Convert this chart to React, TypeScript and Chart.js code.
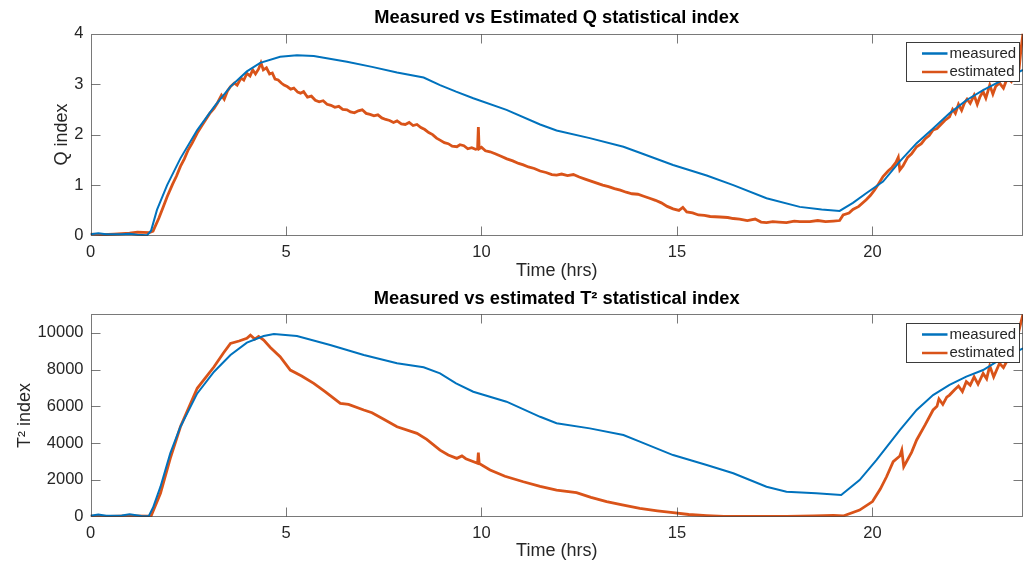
import { useEffect, useRef } from "react";
import { Chart, registerables } from "chart.js";

Chart.register(...registerables);

const FONT = '"Liberation Sans", Arial, Helvetica, sans-serif';
const TEXT = "#262626";
const BLUE = "#0072BD";
const ORANGE = "#D95319";

// ---------- tick labels ----------
const xTicks = [0, 5, 10, 15, 20];
const qYTicks = [0, 1, 2, 3, 4];
const t2YTicks = [0, 2000, 4000, 6000, 8000, 10000];
const xMax = 23.85;
const seriesLabels = ["measured", "estimated"];

// ---------- Q statistical index ----------
const qMeasuredTime = [0, 0.2, 0.4, 0.8, 1.0, 1.2, 1.45, 1.55, 1.7, 1.96, 2.3, 2.73, 3.16, 3.58, 4.0, 4.34, 4.85, 5.28, 5.71, 6.56, 7.2, 7.84, 8.52, 8.94, 9.35, 9.79, 10.64, 11.5, 11.92, 12.77, 13.63, 14.05, 14.9, 15.76, 16.44, 17.29, 18.14, 18.7, 19.16, 19.5, 19.84, 20.27, 20.7, 21.13, 21.55, 21.97, 22.4, 22.83, 23.25, 23.85];
const qMeasured = [0.03, 0.05, 0.03, 0.03, 0.04, 0.02, 0.01, 0.1, 0.51, 1.0, 1.53, 2.09, 2.55, 2.95, 3.25, 3.42, 3.54, 3.57, 3.555, 3.44, 3.34, 3.23, 3.13, 2.98, 2.85, 2.72, 2.49, 2.2, 2.08, 1.93, 1.76, 1.64, 1.4, 1.19, 1.0, 0.74, 0.57, 0.52, 0.49, 0.65, 0.84, 1.07, 1.47, 1.83, 2.12, 2.42, 2.68, 2.88, 3.05, 3.28];

const qEstimatedTime = [0, 0.3, 0.6, 1.0, 1.2, 1.5, 1.6, 1.75, 1.85, 1.96, 2.1, 2.2, 2.3, 2.4, 2.5, 2.6, 2.73, 2.85, 2.95, 3.05, 3.16, 3.25, 3.35, 3.42, 3.5, 3.58, 3.68, 3.75, 3.85, 3.92, 4.0, 4.08, 4.15, 4.22, 4.3, 4.36, 4.42, 4.5, 4.58, 4.65, 4.72, 4.8, 4.88, 4.95, 5.03, 5.12, 5.2, 5.3, 5.37, 5.45, 5.55, 5.65, 5.75, 5.85, 5.95, 6.05, 6.15, 6.25, 6.35, 6.45, 6.56, 6.65, 6.75, 6.85, 6.95, 7.05, 7.15, 7.25, 7.35, 7.45, 7.55, 7.65, 7.75, 7.84, 7.95, 8.05, 8.15, 8.25, 8.35, 8.45, 8.55, 8.65, 8.75, 8.85, 8.94, 9.05, 9.15, 9.25, 9.37, 9.45, 9.55, 9.65, 9.75, 9.85, 9.9, 9.92, 9.94, 10.0, 10.1, 10.22, 10.35, 10.5, 10.65, 10.8, 10.95, 11.07, 11.2, 11.35, 11.5, 11.65, 11.8, 11.92, 12.05, 12.2, 12.35, 12.5, 12.65, 12.8, 12.95, 13.1, 13.25, 13.4, 13.55, 13.7, 13.85, 14.0, 14.15, 14.3, 14.45, 14.6, 14.75, 14.9, 15.05, 15.15, 15.25, 15.4, 15.55, 15.7, 15.85, 16.1, 16.3, 16.44, 16.6, 16.8, 17.0, 17.15, 17.29, 17.45, 17.6, 17.8, 18.0, 18.14, 18.4, 18.6, 18.8, 19.0, 19.16, 19.25, 19.4, 19.5, 19.65, 19.84, 19.95, 20.05, 20.15, 20.27, 20.4, 20.5, 20.6, 20.66, 20.7, 20.78, 20.9, 21.0, 21.13, 21.25, 21.35, 21.45, 21.55, 21.65, 21.75, 21.85, 21.97, 22.05, 22.12, 22.2, 22.28, 22.35, 22.42, 22.5, 22.6, 22.68, 22.75, 22.83, 22.9, 23.0, 23.08, 23.15, 23.25, 23.35, 23.45, 23.55, 23.62, 23.7, 23.75, 23.8, 23.85];
const qEstimated = [0.03, 0.02, 0.03, 0.05, 0.07, 0.06, 0.09, 0.35, 0.55, 0.77, 1.02, 1.18, 1.37, 1.52, 1.7, 1.83, 2.03, 2.18, 2.3, 2.42, 2.52, 2.63, 2.78, 2.7, 2.86, 2.95, 3.02, 2.98, 3.12, 3.08, 3.21, 3.16, 3.28, 3.2, 3.3, 3.42, 3.28, 3.32, 3.2, 3.22, 3.1, 3.08, 3.02, 2.98, 2.95, 2.9, 2.92, 2.84, 2.82, 2.85, 2.74, 2.76, 2.68, 2.65, 2.67, 2.6, 2.58, 2.54, 2.56, 2.5, 2.49, 2.45, 2.43, 2.47, 2.49, 2.42, 2.4, 2.37, 2.39, 2.33, 2.3, 2.28, 2.24, 2.27, 2.21, 2.2, 2.24, 2.18, 2.2, 2.14, 2.1, 2.04, 2.0, 1.93, 1.89, 1.84, 1.82, 1.77, 1.76, 1.8, 1.78, 1.72, 1.74, 1.71, 1.72, 2.15, 1.72, 1.75, 1.68, 1.66, 1.62, 1.57, 1.52, 1.48, 1.43, 1.4, 1.36, 1.33, 1.28, 1.25, 1.21, 1.2, 1.22, 1.19, 1.21, 1.16, 1.12, 1.08, 1.04, 1.0, 0.97, 0.93, 0.9, 0.86, 0.83, 0.82, 0.78, 0.74, 0.7, 0.65, 0.58, 0.53, 0.5, 0.56, 0.47, 0.45, 0.41, 0.4, 0.38, 0.37, 0.36, 0.34, 0.33, 0.3, 0.33, 0.27, 0.26, 0.28, 0.27, 0.26, 0.29, 0.28, 0.28, 0.3, 0.28, 0.29, 0.3, 0.41, 0.45, 0.52, 0.58, 0.71, 0.8, 0.9, 1.02, 1.17, 1.28, 1.35, 1.45, 1.55, 1.3, 1.38, 1.55, 1.62, 1.76, 1.82, 1.92, 1.98, 2.09, 2.12, 2.2, 2.28, 2.35, 2.5, 2.42, 2.6, 2.48, 2.62, 2.7, 2.62, 2.78, 2.6, 2.75, 2.85, 2.72, 2.98, 2.8, 2.95, 3.02, 2.92, 3.12, 3.05, 3.2, 3.12, 3.3, 3.7, 4.0];

// ---------- T^2 statistical index ----------
const t2MeasuredTime = [0, 0.2, 0.4, 0.8, 1.0, 1.3, 1.49, 1.6, 1.79, 2.04, 2.3, 2.73, 3.16, 3.58, 4.0, 4.43, 4.69, 5.28, 6.13, 6.99, 7.84, 8.52, 8.94, 9.35, 9.79, 10.64, 11.5, 11.92, 12.77, 13.63, 14.05, 14.9, 15.76, 16.44, 17.29, 17.8, 18.56, 19.2, 19.67, 20.1, 20.7, 21.13, 21.55, 21.97, 22.4, 22.83, 23.25, 23.85];
const t2Measured = [50, 120, 50, 60, 130, 40, 30, 500, 1630, 3440, 4890, 6700, 7880, 8790, 9460, 9820, 9930, 9820, 9330, 8790, 8340, 8120, 7790, 7250, 6790, 6250, 5430, 5080, 4800, 4440, 4080, 3350, 2810, 2360, 1630, 1360, 1270, 1180, 1990, 3080, 4710, 5800, 6610, 7160, 7610, 7970, 8520, 9150];

const t2EstimatedTime = [0, 0.5, 1.0, 1.5, 1.55, 1.79, 2.04, 2.3, 2.73, 3.16, 3.4, 3.58, 3.8, 4.0, 4.09, 4.2, 4.3, 4.43, 4.6, 4.85, 5.11, 5.4, 5.71, 6.0, 6.39, 6.6, 6.99, 7.2, 7.5, 7.84, 8.35, 8.6, 8.94, 9.15, 9.37, 9.5, 9.6, 9.9, 9.92, 9.94, 10.22, 10.6, 11.07, 11.5, 11.92, 12.43, 12.8, 13.2, 13.6, 14.05, 14.5, 14.9, 15.3, 15.76, 16.2, 17.0, 17.8, 18.5, 19.0, 19.25, 19.67, 20.0, 20.2, 20.36, 20.53, 20.7, 20.75, 20.8, 21.0, 21.13, 21.35, 21.55, 21.65, 21.7, 21.8, 21.9, 21.97, 22.1, 22.2, 22.3, 22.4, 22.5, 22.6, 22.7, 22.83, 22.92, 23.0, 23.1, 23.25, 23.35, 23.45, 23.6, 23.75, 23.85];
const t2Estimated = [30, 20, 40, 30, 40, 1270, 3170, 4890, 6980, 8150, 8900, 9420, 9550, 9700, 9870, 9650, 9800, 9600, 9200, 8700, 7970, 7650, 7250, 6800, 6160, 6100, 5800, 5650, 5300, 4890, 4530, 4200, 3620, 3350, 3170, 3300, 3150, 2900, 3480, 2900, 2540, 2200, 1900, 1650, 1450, 1310, 1050, 820, 640, 450, 320, 220, 120, 60, 20, 10, 20, 40, 70, 40, 360, 820, 1500, 2170, 2990, 3300, 3620, 2720, 3500, 4170, 5000, 5800, 6000, 6400, 6100, 6500, 6610, 6900, 7100, 6800, 7340, 7150, 7600, 7200, 7790, 7500, 8200, 7600, 8340, 8100, 8500, 8700, 10150, 11000];

const pairs = (t: number[], v: number[]) => t.map((x, i) => ({ x, y: v[i] }));

const matlabAxes = {
  id: "matlabAxes",
  afterDraw(chart: any, _args: any, pluginOpts: any) {
    const { ctx, chartArea: a, scales } = chart;
    const xs = scales.x;
    const ys = scales.y;
    ctx.save();

    // title centred over the axes box
    ctx.font = `bold 18.3px ${FONT}`;
    ctx.fillStyle = "#000000";
    ctx.textAlign = "center";
    ctx.textBaseline = "middle";
    ctx.fillText(pluginOpts.title, (a.left + a.right) / 2, a.top - 15.3);

    ctx.strokeStyle = "rgba(38,38,38,0.62)";
    ctx.lineWidth = 1;
    const L = Math.round(a.left) + 0.5;
    const R = Math.round(a.right) - 0.5;
    const T = Math.round(a.top) + 0.5;
    const B = Math.round(a.bottom) - 0.5;
    ctx.strokeRect(L, T, R - L, B - T);
    const tl = 9;
    ctx.beginPath();
    xs.ticks.forEach((t: any) => {
      const px = Math.round(xs.getPixelForValue(t.value)) + 0.5;
      if (px <= L + 1 || px >= R - 1) return;
      ctx.moveTo(px, B);
      ctx.lineTo(px, B - tl);
      ctx.moveTo(px, T);
      ctx.lineTo(px, T + tl);
    });
    ys.ticks.forEach((t: any) => {
      const py = Math.round(ys.getPixelForValue(t.value)) + 0.5;
      if (py <= T + 1 || py >= B - 1) return;
      ctx.moveTo(L, py);
      ctx.lineTo(L + tl, py);
      ctx.moveTo(R, py);
      ctx.lineTo(R - tl, py);
    });
    ctx.stroke();

    // legend box (top-right, inside axes)
    const bw = 113;
    const bh = 39;
    const bx = Math.round(a.right - 4 - bw) + 0.5;
    const by = Math.round(a.top + 8.5) + 0.5;
    ctx.fillStyle = "#ffffff";
    ctx.fillRect(bx, by, bw, bh);
    ctx.strokeStyle = "rgba(38,38,38,0.9)";
    ctx.lineWidth = 1;
    ctx.strokeRect(bx, by, bw, bh);
    ctx.font = `15px ${FONT}`;
    ctx.textBaseline = "middle";
    ctx.textAlign = "left";
    chart.data.datasets.forEach((ds: any, i: number) => {
      const cy = by + 11 + i * 18.5;
      ctx.strokeStyle = ds.borderColor;
      ctx.lineWidth = 2.5;
      ctx.beginPath();
      ctx.moveTo(bx + 15.5, cy);
      ctx.lineTo(bx + 41, cy);
      ctx.stroke();
      ctx.fillStyle = TEXT;
      ctx.fillText(ds.label, bx + 43, cy);
    });
    ctx.restore();
  },
};

function makeConfig(opts: {
  title: string;
  yTitle: string;
  yMax: number;
  yTicks: number[];
  measured: { x: number; y: number }[];
  estimated: { x: number; y: number }[];
  topPad: number;
  xAxisHeight: number;
  xTitlePad: number;
  yTitlePad: number;
}) {
  return {
    type: "line" as const,
    data: {
      datasets: [
        {
          label: seriesLabels[0],
          data: opts.measured,
          borderColor: BLUE,
          backgroundColor: BLUE,
          borderWidth: 2,
          pointRadius: 0,
          tension: 0,
        },
        {
          label: seriesLabels[1],
          data: opts.estimated,
          borderColor: ORANGE,
          backgroundColor: ORANGE,
          borderWidth: 2.8,
          pointRadius: 0,
          tension: 0,
        },
      ],
    },
    options: {
      animation: false,
      responsive: false,
      maintainAspectRatio: false,
      events: [],
      layout: { padding: { left: 0, right: 1, top: opts.topPad, bottom: 0 } },
      plugins: {
        legend: { display: false },
        tooltip: { enabled: false },
        title: { display: false },
        matlabAxes: { title: opts.title },
      },
      scales: {
        x: {
          type: "linear",
          min: 0,
          max: xMax,
          grid: { display: false, drawTicks: false, tickLength: 0 },
          border: { display: false },
          afterBuildTicks: (s: any) => {
            s.ticks = xTicks.map((v) => ({ value: v }));
          },
          ticks: {
            autoSkip: false,
            maxRotation: 0,
            padding: 7.2,
            color: TEXT,
            font: { family: FONT, size: 16.5, lineHeight: 1.2 },
            callback: (v: any) => String(v),
          },
          title: {
            display: true,
            text: "Time (hrs)",
            color: TEXT,
            font: { family: FONT, size: 18, lineHeight: 1.2 },
            padding: { top: 0, bottom: opts.xTitlePad },
          },
          afterFit: (s: any) => {
            s.height = opts.xAxisHeight;
          },
        },
        y: {
          type: "linear",
          min: 0,
          max: opts.yMax,
          grid: { display: false, drawTicks: false, tickLength: 0 },
          border: { display: false },
          afterBuildTicks: (s: any) => {
            s.ticks = opts.yTicks.map((v) => ({ value: v }));
          },
          ticks: {
            autoSkip: false,
            padding: 7,
            color: TEXT,
            font: { family: FONT, size: 16.5, lineHeight: 1.2 },
            callback: (v: any) => String(v),
          },
          title: {
            display: true,
            text: opts.yTitle,
            color: TEXT,
            font: { family: FONT, size: 18, lineHeight: 1.2 },
            padding: { top: opts.yTitlePad, bottom: 0 },
          },
          afterFit: (s: any) => {
            s.width = 90.5;
          },
        },
      },
    },
    plugins: [matlabAxes],
  };
}

function Panel(props: { top: number; height: number; config: any }) {
  const ref = useRef<HTMLCanvasElement | null>(null);
  useEffect(() => {
    if (!ref.current) return;
    const chart = new Chart(ref.current, props.config);
    return () => chart.destroy();
  }, []);
  return (
    <canvas
      ref={ref}
      width={1024}
      height={props.height}
      style={{ position: "absolute", left: 0, top: props.top, width: 1024, height: props.height, display: "block" }}
    />
  );
}

export default function App() {
  const qConfig = makeConfig({
    title: "Measured vs Estimated Q statistical index",
    yTitle: "Q index",
    yMax: 4,
    yTicks: qYTicks,
    measured: pairs(qMeasuredTime, qMeasured),
    estimated: pairs(qEstimatedTime, qEstimated),
    topPad: 33.5,
    xAxisHeight: 48.3,
    xTitlePad: 2.2,
    yTitlePad: 51.7,
  });
  const t2Config = makeConfig({
    title: "Measured vs estimated T² statistical index",
    yTitle: "T² index",
    yMax: 11000,
    yTicks: t2YTicks,
    measured: pairs(t2MeasuredTime, t2Measured),
    estimated: pairs(t2EstimatedTime, t2Estimated),
    topPad: 30.3,
    xAxisHeight: 52.3,
    xTitlePad: 7.2,
    yTitlePad: 14.7,
  });
  return (
    <div style={{ position: "fixed", left: 0, top: 0, width: 1024, height: 569, background: "#ffffff", overflow: "hidden" }}>
      <Panel top={0} height={284} config={qConfig} />
      <Panel top={284} height={285} config={t2Config} />
    </div>
  );
}
